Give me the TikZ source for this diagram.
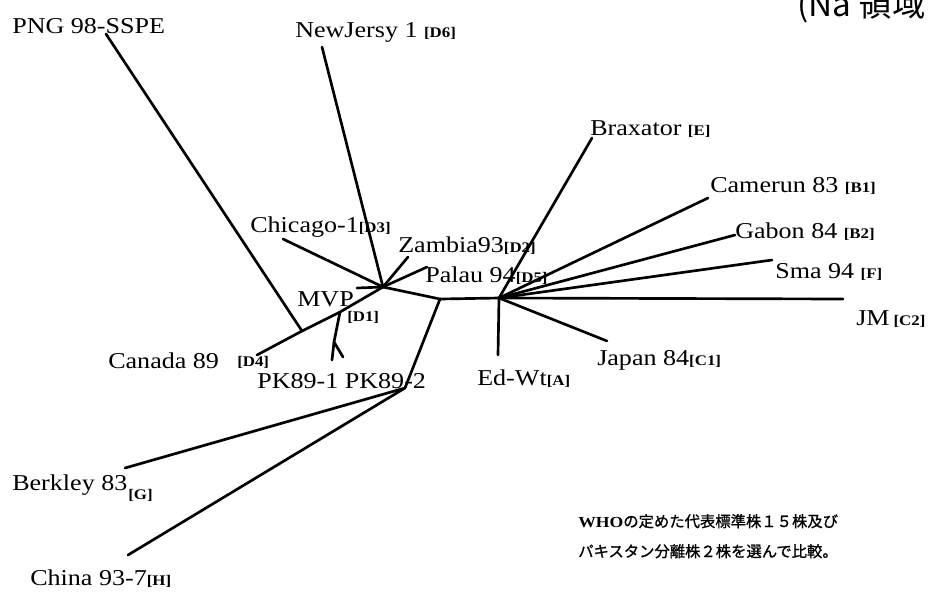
\documentclass[tikz,border=0pt]{standalone}
\usepackage{fontspec}
\setmainfont{Liberation Serif}[FakeStretch=1.15]
\newfontfamily\jpfont{Noto Sans CJK JP}[FakeBold=1]
\newfontfamily\jptop{Noto Sans CJK JP}
\newcommand\gtag[1]{{\fontsize{11}{11}\selectfont\bfseries[#1]}}
\begin{document}
\begin{tikzpicture}[x=0.75pt,y=-0.75pt,
  br/.style={line width=2pt, line cap=round, line join=round},
  lab/.style={anchor=base west, inner sep=0pt, font=\fontsize{17}{17}\selectfont},
  tg/.style={anchor=base west, inner sep=0pt, font=\fontsize{11}{11}\selectfont\bfseries},
  jp/.style={anchor=base west, inner sep=0pt, font=\jpfont\fontsize{11.5}{11.5}\selectfont}]
\useasboundingbox (0,0) rectangle (931,594);
% internal nodes
\coordinate (nD) at (383,287);
\coordinate (nC) at (440,299);
\coordinate (nE) at (499,298);
\coordinate (nGH) at (405,388);
\coordinate (nD1) at (340,312);
\coordinate (nS) at (302,331);
\coordinate (nPK) at (334,342);
% tips
\coordinate (tPNG) at (106,34);
\coordinate (tNJ) at (322,47);
\coordinate (tChi) at (283,239);
\coordinate (tZam) at (408,257);
\coordinate (tPal) at (427,267);
\coordinate (tMVP) at (357,288);
\coordinate (tCan) at (257,355);
\coordinate (tPKa) at (332,360);
\coordinate (tPKb) at (343,357);
\coordinate (tBerk) at (125,468);
\coordinate (tChina) at (128,555);
\coordinate (tEd) at (498,355);
\coordinate (tJap) at (607,341);
\coordinate (tJM) at (843,299);
\coordinate (tSma) at (772,260);
\coordinate (tGab) at (735,235);
\coordinate (tCam) at (708,198);
\coordinate (tBrax) at (592,138);
% branches
\draw[br] (nD) -- (nC) -- (nE);
\draw[br] (nC) -- (nGH);
\draw[br] (nGH) -- (tBerk);
\draw[br] (nGH) -- (tChina);
\draw[br] (nD) -- (tNJ);
\draw[br] (nD) -- (tChi);
\draw[br] (nD) -- (tZam);
\draw[br] (nD) -- (tPal);
\draw[br] (nD) -- (tMVP);
\draw[br] (nD) -- (nD1) -- (nS) -- (tCan);
\draw[br] (nS) -- (tPNG);
\draw[br] (nD1) -- (nPK) -- (tPKa);
\draw[br] (nPK) -- (tPKb);
\draw[br] (nE) -- (tEd);
\draw[br] (nE) -- (tJap);
\draw[br] (nE) -- (tJM);
\draw[br] (nE) -- (tSma);
\draw[br] (nE) -- (tGab);
\draw[br] (nE) -- (tCam);
\draw[br] (nE) -- (tBrax);
% labels
\node[lab] (lPNG) at (12,33) {PNG 98-SSPE};
\node[lab] (lNJ) at (295,37) {NewJersy 1 \gtag{D6}};
\node[lab] (lChi) at (250,232) {Chicago-1\gtag{D3}};
\node[lab] (lZam) at (398,252) {Zambia93\gtag{D2}};
\node[lab] (lPal) at (425,282) {Palau 94\gtag{D5}};
\node[lab] (lMVP) at (297,306) {MVP};
\node[tg] (lD1) at (347,321) {[D1]};
\node[lab] (lCan) at (108,368) {Canada 89};
\node[tg] (lD4) at (237,366) {[D4]};
\node[lab] (lPK) at (257,388) {PK89-1 PK89-2};
\node[lab] (lBerk) at (12,490) {Berkley 83};
\node[tg] (lG) at (128,499) {[G]};
\node[lab] (lChina) at (30,585) {China 93-7\gtag{H}};
\node[lab] (lEd) at (477,385) {Ed-Wt\gtag{A}};
\node[lab] (lJap) at (597,365) {Japan 84\gtag{C1}};
\node[lab] (lJM) at (856,325) {JM\hspace{3pt}\gtag{C2}};
\node[lab] (lSma) at (775,278) {Sma 94 \gtag{F}};
\node[lab] (lGab) at (735,238) {Gabon 84 \gtag{B2}};
\node[lab] (lCam) at (710,192) {Camerun 83 \gtag{B1}};
\node[lab] (lBrax) at (590,135) {Braxator \gtag{E}};
% note
\node[jp] (j1) at (578,527) {{\rmfamily\bfseries WHO}の定めた代表標準株１５株及び};
\node[jp] (j2) at (578,557) {パキスタン分離株２株を選んで比較。};
\node[anchor=base west, inner sep=0pt, font=\jptop\fontsize{25}{25}\selectfont] (top) at (797,16) {(Na 領域};
\end{tikzpicture}
\end{document}
